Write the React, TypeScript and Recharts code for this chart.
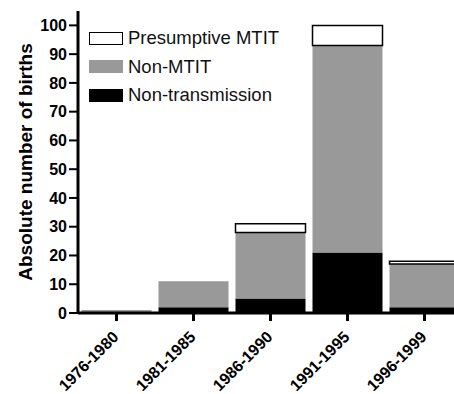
import React from 'react'
import { BarChart, Bar, XAxis, YAxis } from 'recharts'

const periods = ['1976-1980', '1981-1985', '1986-1990', '1991-1995', '1996-1999']
const nonTransmission = [0, 2, 5, 21, 2]
const nonMtit = [1, 9, 23, 72, 15]
const presumptiveMtit = [0, 0, 3, 7, 1]
const yTicks = [0, 10, 20, 30, 40, 50, 60, 70, 80, 90, 100]

const legendItems = [
  { label: 'Presumptive MTIT', fill: '#ffffff', border: '#000000' },
  { label: 'Non-MTIT', fill: '#999999', border: '#999999' },
  { label: 'Non-transmission', fill: '#000000', border: '#000000' },
]

const data = periods.map((p, i) => ({
  period: p,
  nonTransmission: nonTransmission[i],
  nonMtit: nonMtit[i],
  presumptive: presumptiveMtit[i],
}))

const FONT = 'Arial, "Liberation Sans", sans-serif'

// baseline end of each rotated label sits just right of / below its tick
function XTick(props: any) {
  const { x, y, payload } = props
  const bx = x + 3
  const by = y + 15
  return (
    <text
      x={bx}
      y={by}
      transform={`rotate(-45, ${bx}, ${by})`}
      textAnchor="end"
      fontFamily={FONT}
      fontWeight="bold"
      fontSize={16}
      fill="#000"
    >
      {payload.value}
    </text>
  )
}

function YLabel(props: any) {
  const { viewBox } = props
  const cx = 25
  const cy = viewBox.y + viewBox.height / 2
  return (
    <text
      x={cx}
      y={cy}
      transform={`rotate(-90 ${cx} ${cy})`}
      textAnchor="middle"
      dominantBaseline="central"
      fontFamily={FONT}
      fontWeight="bold"
      fontSize={19}
      fill="#000"
    >
      Absolute number of births
    </text>
  )
}

export default function App() {
  return (
    <div style={{ position: 'absolute', left: 0, top: 0, width: 454, height: 394, overflow: 'hidden', background: '#fff' }}>
      <BarChart
        width={463}
        height={394}
        data={data}
        margin={{ top: 11, right: 0, bottom: 0, left: 0 }}
        barCategoryGap={3.5}
      >
        <XAxis
          dataKey="period"
          height={81}
          interval={0}
          tickSize={8}
          tick={(p: any) => <XTick {...p} />}
          axisLine={{ stroke: '#000', strokeWidth: 3 }}
          tickLine={{ stroke: '#000', strokeWidth: 3 }}
        />
        <YAxis
          width={78}
          domain={[0, 105]}
          ticks={yTicks}
          interval={0}
          tickSize={9}
          tickMargin={2}
          tick={{ fill: '#000', fontSize: 16, fontWeight: 'bold', fontFamily: FONT }}
          axisLine={{ stroke: '#000', strokeWidth: 3 }}
          tickLine={{ stroke: '#000', strokeWidth: 2 }}
          label={<YLabel />}
        />
        <Bar dataKey="nonTransmission" stackId="a" fill="#000000" isAnimationActive={false} />
        <Bar dataKey="nonMtit" stackId="a" fill="#999999" isAnimationActive={false} />
        <Bar dataKey="presumptive" stackId="a" fill="#ffffff" stroke="#000" strokeWidth={1.5} isAnimationActive={false} />
      </BarChart>
      <div style={{ position: 'absolute', left: 89, top: 24, fontFamily: FONT, fontSize: 18.5, color: '#111' }}>
        {legendItems.map(item => (
          <div key={item.label} style={{ display: 'flex', alignItems: 'center', height: 28.5 }}>
            <div
              style={{
                width: 32,
                height: 11,
                background: item.fill,
                border: `1.5px solid ${item.border}`,
                marginRight: 5,
              }}
            />
            <span style={{ lineHeight: '18px' }}>{item.label}</span>
          </div>
        ))}
      </div>
    </div>
  )
}
